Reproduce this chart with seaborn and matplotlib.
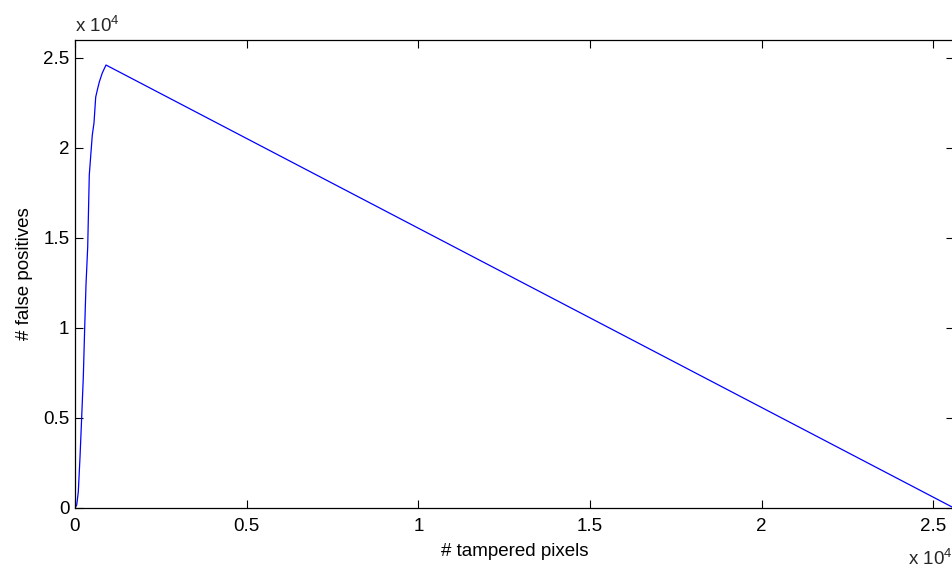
import numpy as np
import matplotlib
matplotlib.use('Agg')
import matplotlib.pyplot as plt
import seaborn as sns
import pandas as pd

# data (x and y in raw counts)
tampered_pixels = [0, 50, 96, 146, 195, 242, 282, 320, 370, 400, 416, 466,
                   504, 553, 603, 650, 708, 795, 903, 25600]
false_positives = [0, 170, 890, 2830, 5060, 7280, 10000, 12390, 14500, 17110,
                   18500, 19780, 20720, 21390, 22830, 23220, 23670, 24170,
                   24610, 0]
tick_values = [0, 5000, 10000, 15000, 20000, 25000]
tick_labels = ['0', '0.5', '1', '1.5', '2', '2.5']

df = pd.DataFrame({'tampered': tampered_pixels, 'fp': false_positives})

sns.set_style('white')
plt.rcParams['font.family'] = ['Liberation Sans', 'DejaVu Sans']
plt.rcParams['mathtext.fontset'] = 'custom'
plt.rcParams['mathtext.rm'] = 'Liberation Sans'

fs = 13.5

fig = plt.figure(figsize=(9.52, 5.73), dpi=100)
ax = fig.add_axes([75 / 952, 1 - 508 / 573, 879 / 952, 468 / 573])

sns.lineplot(data=df, x='tampered', y='fp', color='#0000ff', lw=0.9,
             sort=False, ax=ax)

ax.set_xlim(0, 25600)
ax.set_ylim(0, 26000)
ax.set_xticks(tick_values)
ax.set_xticklabels(tick_labels)
ax.set_yticks(tick_values)
ax.set_yticklabels(tick_labels)
ax.tick_params(direction='in', length=6, width=0.8, color='black',
               labelsize=fs, labelcolor='black',
               top=True, right=True, bottom=True, left=True)
ax.tick_params(axis='x', pad=7)
ax.tick_params(axis='y', pad=4)
for s in ax.spines.values():
    s.set_color('black')
    s.set_linewidth(0.9)

ax.set_xlabel('# tampered pixels', fontsize=fs, color='black', labelpad=6)
ax.set_ylabel('# false positives', fontsize=fs, color='black', labelpad=7)

# matlab style exponent labels
fig.text(75 / 952, 1 - 32 / 573, r'x 10$^{\mathregular{4}}$', fontsize=fs,
         ha='left', va='baseline')
fig.text(908 / 952, 1 - 565 / 573, r'x 10$^{\mathregular{4}}$', fontsize=fs,
         ha='left', va='baseline')

plt.savefig('out.png', dpi=100)
